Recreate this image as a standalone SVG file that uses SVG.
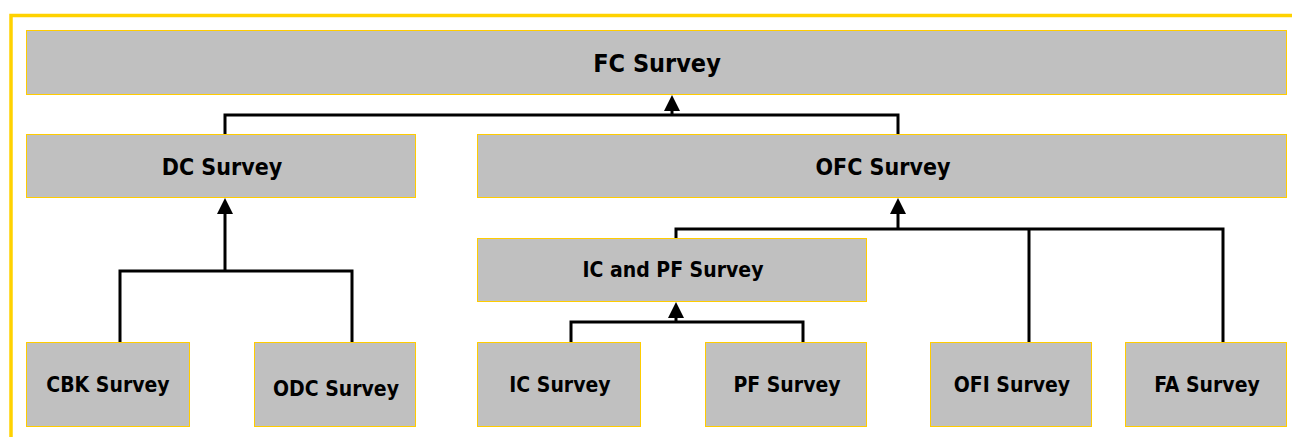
<svg xmlns="http://www.w3.org/2000/svg" width="1292" height="437" viewBox="0 0 1292 437">
<style>
.box{fill:#C0C0C0;stroke:#FFCC00;stroke-width:1}
.t{font-family:"DejaVu Sans Condensed","DejaVu Sans",sans-serif;font-stretch:condensed;font-weight:bold;fill:#000;text-anchor:middle}
.c{fill:none;stroke:#000;stroke-width:3;stroke-linejoin:miter;stroke-linecap:butt}
.frame{fill:none;stroke:#FFD200;stroke-width:3.5}
</style>
<defs>
<marker id="arr" markerUnits="userSpaceOnUse" markerWidth="16" markerHeight="16" viewBox="0 -8 16 16" refX="0" refY="0" orient="auto" overflow="visible">
<path d="M0,-8 L16,0 L0,8 Z" fill="#000"/>
</marker>
</defs>
<rect width="1292" height="437" fill="#fff"/>
<path class="frame" d="M11,437 V15.5 H1292"/>
<g id="fc"><rect class="box" x="26.5" y="30.5" width="1260" height="64"/><text class="t" x="657" y="72" font-size="25">FC Survey</text></g>
<g id="dc"><rect class="box" x="26.5" y="134.5" width="389" height="63"/><text class="t" x="222" y="175" font-size="23">DC Survey</text></g>
<g id="ofc"><rect class="box" x="477.5" y="134.5" width="809" height="63"/><text class="t" x="883" y="175" font-size="23">OFC Survey</text></g>
<g id="icpf"><rect class="box" x="477.5" y="238.5" width="389" height="63"/><text class="t" x="673" y="277" font-size="21">IC and PF Survey</text></g>
<g id="cbk"><rect class="box" x="26.5" y="342.5" width="163" height="84"/><text class="t" x="108" y="392" font-size="21">CBK Survey</text></g>
<g id="odc"><rect class="box" x="254.5" y="342.5" width="161" height="84"/><text class="t" x="336" y="395.5" font-size="21">ODC Survey</text></g>
<g id="ic"><rect class="box" x="477.5" y="342.5" width="163" height="84"/><text class="t" x="560" y="391.5" font-size="21">IC Survey</text></g>
<g id="pf"><rect class="box" x="705.5" y="342.5" width="161" height="84"/><text class="t" x="787" y="391.5" font-size="21">PF Survey</text></g>
<g id="ofi"><rect class="box" x="930.5" y="342.5" width="161" height="84"/><text class="t" x="1012" y="391.5" font-size="21">OFI Survey</text></g>
<g id="fa"><rect class="box" x="1125.5" y="342.5" width="161" height="84"/><text class="t" x="1207" y="391.5" font-size="21">FA Survey</text></g>
<g id="connectors">
<path class="c" d="M225,134 V115 H898 V134"/>
<path class="c" d="M672,115 V111" marker-end="url(#arr)"/>
<path class="c" d="M120,342 V271 H352 V342"/>
<path class="c" d="M225,271 V214" marker-end="url(#arr)"/>
<path class="c" d="M571,342 V322 H803 V342"/>
<path class="c" d="M676,322 V318" marker-end="url(#arr)"/>
<path class="c" d="M676,238 V229 H1223 V342"/>
<path class="c" d="M1029,229 V342"/>
<path class="c" d="M898,229 V214" marker-end="url(#arr)"/>
</g>
</svg>
